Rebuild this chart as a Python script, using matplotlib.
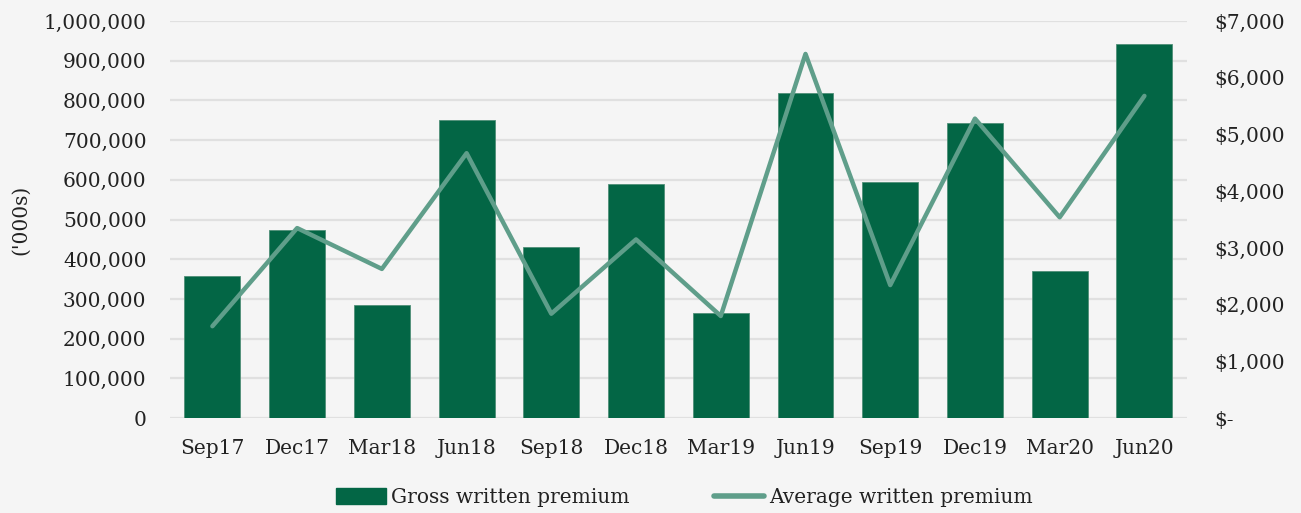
import matplotlib
matplotlib.use("Agg")
import matplotlib.pyplot as plt
from matplotlib.ticker import FuncFormatter, MultipleLocator
from matplotlib.lines import Line2D
from matplotlib.patches import Patch

quarters = ["Sep17", "Dec17", "Mar18", "Jun18", "Sep18", "Dec18",
            "Mar19", "Jun19", "Sep19", "Dec19", "Mar20", "Jun20"]
gross_written_premium = [358000, 474000, 286000, 751000, 431000, 589000,
                         264000, 819000, 594000, 743000, 371000, 942000]
average_written_premium = [1620, 3350, 2630, 4670, 1840, 3150,
                           1800, 6420, 2345, 5280, 3540, 5680]

BG = "#f5f5f5"
BAR = "#036645"
LINE = "#5f9e8a"
GRID = "#e0e0e0"
TEXT = "#222222"
FONT = ["DejaVu Serif"]
FS = 14.5

plt.rcParams["font.family"] = FONT
plt.rcParams["font.size"] = FS

fig = plt.figure(figsize=(13.01, 5.13), dpi=100, facecolor=BG)
ax = fig.add_axes([0.1307, 0.185, 0.7815, 0.774], facecolor=BG)
x = list(range(len(quarters)))

ax.bar(x, gross_written_premium, width=0.66, color=BAR,
       edgecolor="#4f8f77", linewidth=0.6, zorder=2)
ax.set_ylim(0, 1_000_000)
ax.set_xlim(-0.5, len(quarters) - 0.5)
ax.yaxis.set_major_locator(MultipleLocator(100_000))
ax.yaxis.set_major_formatter(FuncFormatter(lambda v, p: f"{v:,.0f}"))
ax.grid(axis="y", color=GRID, linewidth=1.6, zorder=0)
ax.set_axisbelow(True)
ax.set_xticks(x)
ax.set_xticklabels(quarters)
ax.tick_params(axis="y", length=0, pad=17, colors=TEXT, labelsize=FS)
ax.tick_params(axis="x", length=0, pad=15, colors=TEXT, labelsize=FS)
for s in ax.spines.values():
    s.set_visible(False)
ax.set_ylabel("('000s)", fontsize=FS, color=TEXT, labelpad=10)

ax2 = ax.twinx()
ax2.plot(x, average_written_premium, color=LINE, linewidth=3.2,
         solid_capstyle="round", solid_joinstyle="round", zorder=3)
ax2.set_ylim(0, 7000)
ax2.yaxis.set_major_locator(MultipleLocator(1000))
ax2.yaxis.set_major_formatter(
    FuncFormatter(lambda v, p: "$-" if v == 0 else f"${v:,.0f}"))
ax2.tick_params(axis="y", length=0, pad=20, colors=TEXT, labelsize=FS)
for s in ax2.spines.values():
    s.set_visible(False)

handles = [Patch(facecolor=BAR, edgecolor=BAR),
           Line2D([0], [0], color=LINE, linewidth=4, solid_capstyle="round")]
fig.legend(handles, ["Gross written premium", "Average written premium"],
           loc="center", bbox_to_anchor=(0.526, 0.03), ncol=2, frameon=False,
           fontsize=FS, handlelength=2.5, handleheight=0.8,
           handletextpad=0.25, columnspacing=4.2, labelcolor=TEXT)

fig.savefig("out.png", dpi=100, facecolor=BG)
